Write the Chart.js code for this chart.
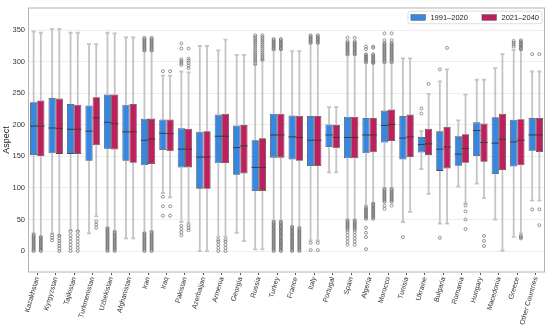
<!DOCTYPE html>
<html>
<head>
<meta charset="utf-8">
<script src="https://cdn.jsdelivr.net/npm/chart.js@4.4.1/dist/chart.umd.min.js"></script>
<style>
  html, body { margin: 0; padding: 0; background: #fff; }
  canvas { display: block; }
</style>
</head>
<body>
<canvas id="chart" width="550" height="327"></canvas>
<script>
// ------------------------------------------------------------
//  Data (box stats per country)
// ------------------------------------------------------------

const categories = [
    "Kazakhstan", "Kyrgyzstan", "Tajikistan", "Turkmenistan", "Uzbekistan",
    "Afghanistan", "Iran", "Iraq", "Pakistan", "Azerbaijan", "Armenia",
    "Georgia", "Russia", "Turkey", "France", "Italy", "Portugal", "Spain",
    "Algeria", "Morocco", "Tunisia", "Ukraine", "Bulgaria", "Romania",
    "Hungary", "Macedonia", "Greece", "Other Countries",
];
const seriesLabels = ["1991–2020", "2021–2040"];
const yTicks = [0, 50, 100, 150, 200, 250, 300, 350];

// 1991–2020
const q1A  = [152, 155, 154, 143, 162, 143, 136, 160, 132.5, 98.6, 139, 121, 95, 148, 145, 134.7, 165, 147, 155, 172, 145, 156, 127, 135, 150.5, 122, 134, 159];
const medA = [198, 195, 193, 190, 204, 189, 175.6, 186.6, 161.5, 149, 182, 164, 132.5, 184, 181, 175.6, 184, 180, 184, 199, 179, 169, 161.5, 153.6, 191, 171, 173, 184];
const q3A  = [236, 242.6, 233, 230.6, 248, 232, 209.6, 208.6, 194.5, 189, 216.5, 199, 175.6, 217.5, 215, 214, 200.7, 213, 211, 222.8, 214, 181, 190, 182, 204, 212, 208, 211];
const loA  = [28, 28, 33, 28, 37, 20, 29, 92, 46, 0, 22.5, 29, 2.6, 48, 39, 17, 124.7, 50, 72, 100, 46, 130, 43.5, 102, 107, 50, 22.5, 80];
const hiA  = [348, 352, 346, 328, 346, 338.5, 317, 278, 284.6, 325, 318, 311, 295, 318.7, 317, 329, 228, 311, 298, 298, 305.5, 190, 269, 207, 271.5, 290, 318.7, 284.6];
const outA = [
    [0, 2, 4, 6, 8, 10, 12, 14, 16, 18, 20, 22, 24, 26],
    [17, 21, 25],
    [0, 5, 10, 15, 20, 25, 31],
    [],
    [0, 2, 4, 6, 8, 10, 12, 14, 16, 18, 20, 22, 24, 26, 28, 30, 32, 34, 36],
    [],
    [0, 2, 4, 6, 8, 10, 12, 14, 16, 18, 20, 22, 24, 26, 28, 318, 320, 322, 324, 326, 328, 330, 332, 334, 336, 338],
    [56, 71, 86, 285],
    [25, 30, 35, 40, 295, 298, 301, 304, 321, 329],
    [],
    [0, 5, 10, 15, 18],
    [],
    [297, 300, 303, 306, 309, 312, 315, 318, 321, 324, 327, 330, 333, 336, 339, 342],
    [0, 2, 4, 6, 8, 10, 12, 14, 16, 18, 20, 22, 24, 26, 28, 30, 32, 34, 36, 38, 40, 42, 44, 46, 320, 322, 324, 326, 328, 330, 332, 334, 336],
    [0, 2, 4, 6, 8, 10, 12, 14, 16, 18, 20, 22, 24, 26, 28, 30, 32, 34, 36, 38],
    [1.5, 13, 330, 332, 334, 336, 338, 340, 342],
    [],
    [10, 15, 20, 25, 30, 34, 36, 38, 40, 42, 44, 46, 48, 312, 314, 316, 318, 320, 322, 324, 326, 328, 330, 332, 338],
    [3, 22, 29, 37, 51, 53, 55, 57, 59, 61, 63, 65, 67, 69, 300, 302, 304, 306, 308, 310, 312, 320, 324],
    [67, 72, 78, 80, 82, 84, 86, 88, 90, 92, 94, 96, 98, 300, 302, 304, 306, 308, 310, 312, 314, 316, 318, 320, 322, 324, 326, 328, 330, 334, 345],
    [22],
    [218, 226],
    [21, 288],
    [],
    [],
    [],
    [324, 327, 330, 333],
    [66, 312],
];

// 2021–2040
const q1B  = [150.5, 154, 153.6, 167.7, 161, 140, 138, 158, 132.6, 98.6, 139.5, 123, 95, 148, 143, 134.7, 163, 147, 156.7, 174.5, 149, 152, 131, 140, 141.5, 128.5, 136, 157];
const medB = [198, 194.5, 193, 211, 202, 189, 177.6, 186, 161.5, 149, 182, 166.7, 132.5, 184, 180, 175.6, 180, 180, 184, 200.7, 181, 170, 165, 162.5, 172, 177, 175.6, 184];
const q3B  = [238.5, 241.6, 232, 243.7, 248, 233, 210, 208.6, 194, 190, 217.5, 200, 178.7, 217.5, 214.5, 214, 200, 213, 211, 224.3, 216.5, 194, 197, 185, 202, 217.5, 209, 211];
const loB  = [23, 25, 32, 55, 32, 20, 32, 85, 45, 0, 22.5, 15.7, 2.6, 48, 38, 17, 124.7, 50, 76, 100, 62, 90.7, 43.5, 76, 84, 0.5, 28, 80];
const hiB  = [346, 352, 346, 328, 345, 338.5, 317, 278, 283, 325, 335, 311, 303, 318.7, 317, 329, 228, 311, 298, 298, 305.5, 249, 288, 248, 271.5, 312, 318.7, 284.6];
const outB = [
    [0, 2, 4, 6, 8, 10, 12, 14, 16, 18, 20, 22],
    [0, 4, 8, 12, 16, 20, 24],
    [0, 5, 10, 15, 20, 25, 31],
    [37, 42, 47],
    [0, 2, 4, 6, 8, 10, 12, 14, 16, 18, 20, 22, 24, 26, 28, 30],
    [],
    [0, 2, 4, 6, 8, 10, 12, 14, 16, 18, 20, 22, 24, 26, 28, 30, 318, 320, 322, 324, 326, 328, 330, 332, 334, 336, 338],
    [56, 71, 285],
    [33, 37, 41, 290, 294, 298, 302, 305, 321],
    [],
    [0, 5, 10, 15, 18],
    [],
    [303, 306, 309, 312, 315, 318, 321, 324, 327, 330, 333, 336, 339, 342],
    [0, 2, 4, 6, 8, 10, 12, 14, 16, 18, 20, 22, 24, 26, 28, 30, 32, 34, 36, 38, 40, 42, 44, 46, 320, 322, 324, 326, 328, 330, 332, 334, 336],
    [0, 2, 4, 6, 8, 10, 12, 14, 16, 18, 20, 22, 24, 26, 28, 30, 32, 34, 36],
    [1.5, 13, 330, 332, 334, 336, 338, 340, 342],
    [],
    [10, 15, 20, 25, 30, 34, 36, 38, 40, 42, 44, 46, 48, 312, 314, 316, 318, 320, 322, 324, 326, 328, 330, 332, 338],
    [51, 53, 55, 57, 59, 61, 63, 65, 67, 69, 71, 73, 75, 298, 300, 302, 304, 306, 308, 310, 312, 322, 324],
    [72, 78, 80, 82, 84, 86, 88, 90, 92, 94, 96, 98, 300, 302, 304, 306, 308, 310, 312, 314, 316, 318, 320, 322, 324, 326, 328, 330, 334, 345],
    [],
    [265],
    [322],
    [35, 50, 63, 72],
    [8, 16, 24],
    [],
    [20, 22, 24, 320, 322, 324, 326, 328, 330, 332, 334],
    [41, 66, 312],
];

const COLORS = {
    blue:    "#3787e2",
    red:     "#bf1f5c",
    edge:    "#4a4a4a",
    whisker: "#c4c4c4",
    median:  "#3c3c3c",
    flier:   "#6a6a6a",
    frame:   "#b4b4b4",
    grid:    "#eeeeee",
    text:    "#333333",
};
const FONT = "'Liberation Sans', Arial, sans-serif";

const boxStats = [
    { lo: loA, hi: hiA, med: medA, out: outA },
    { lo: loB, hi: hiB, med: medB, out: outB },
];

// ------------------------------------------------------------
//  Plugin: whiskers, medians, fliers, frame and inner legend
// ------------------------------------------------------------

const boxExtras = {
    id: "boxExtras",
    beforeDatasetsDraw(chart) {
        const { ctx } = chart;
        const y = chart.scales.y;
        ctx.save();
        ctx.strokeStyle = COLORS.whisker;
        ctx.lineWidth = 1.8;
        boxStats.forEach((s, di) => {
            const bars = chart.getDatasetMeta(di).data;
            const ds = chart.data.datasets[di].data;
            bars.forEach((bar, i) => {
                const x = bar.x;
                const cap = bar.width * 0.28;
                const pq1 = y.getPixelForValue(ds[i][0]);
                const pq3 = y.getPixelForValue(ds[i][1]);
                const plo = y.getPixelForValue(s.lo[i]);
                const phi = y.getPixelForValue(s.hi[i]);
                ctx.beginPath();
                ctx.moveTo(x, pq3); ctx.lineTo(x, phi);
                ctx.moveTo(x, pq1); ctx.lineTo(x, plo);
                ctx.moveTo(x - cap, phi); ctx.lineTo(x + cap, phi);
                ctx.moveTo(x - cap, plo); ctx.lineTo(x + cap, plo);
                ctx.stroke();
            });
        });
        ctx.restore();
    },
    afterDatasetsDraw(chart) {
        const { ctx, chartArea: ca } = chart;
        const y = chart.scales.y;
        ctx.save();
        boxStats.forEach((s, di) => {
            const bars = chart.getDatasetMeta(di).data;
            bars.forEach((bar, i) => {
                const x = bar.x, w = bar.width;
                // median
                const pm = y.getPixelForValue(s.med[i]);
                ctx.strokeStyle = COLORS.median;
                ctx.lineWidth = 1;
                ctx.beginPath();
                ctx.moveTo(x - w / 2, pm); ctx.lineTo(x + w / 2, pm);
                ctx.stroke();
                // fliers
                ctx.strokeStyle = COLORS.flier;
                ctx.lineWidth = 0.7;
                s.out[i].forEach(v => {
                    ctx.beginPath();
                    ctx.arc(x, y.getPixelForValue(v), 1.5, 0, Math.PI * 2);
                    ctx.stroke();
                });
            });
        });

        // frame
        ctx.strokeStyle = COLORS.frame;
        ctx.lineWidth = 1;
        ctx.strokeRect(ca.left + 0.5, ca.top + 0.5, ca.right - ca.left - 1, ca.bottom - ca.top - 1);

        // legend, upper right inside the axes
        ctx.font = `7.5px ${FONT}`;
        ctx.textBaseline = "middle";
        const sw = 14.5, sh = 5.6, gapT = 5, gapI = 14, pad = 3;
        const widths = seriesLabels.map(t => ctx.measureText(t).width);
        const inner = widths.reduce((a, w) => a + sw + gapT + w, 0) + gapI;
        const bw = inner + pad * 2, bh = 12.5;
        const bx = ca.right - 3 - bw, by = ca.top + 3.7;
        ctx.fillStyle = "rgba(255,255,255,0.85)";
        ctx.strokeStyle = "#d6d6d6";
        ctx.lineWidth = 0.8;
        ctx.beginPath();
        ctx.roundRect(bx, by, bw, bh, 2);
        ctx.fill();
        ctx.stroke();
        let cx = bx + pad;
        const cy = by + bh / 2;
        [COLORS.blue, COLORS.red].forEach((col, k) => {
            ctx.fillStyle = col;
            ctx.fillRect(cx, cy - sh / 2, sw, sh);
            ctx.strokeStyle = COLORS.edge;
            ctx.lineWidth = 0.5;
            ctx.strokeRect(cx, cy - sh / 2, sw, sh);
            cx += sw + gapT;
            ctx.fillStyle = "#222";
            ctx.fillText(seriesLabels[k], cx, cy + 0.5);
            cx += widths[k] + gapI;
        });
        ctx.restore();
    },
};

// ------------------------------------------------------------
//  Chart
// ------------------------------------------------------------

new Chart(document.getElementById("chart"), {
    type: "bar",
    data: {
        labels: categories,
        datasets: [
            {
                label: seriesLabels[0],
                data: q1A.map((v, i) => [v, q3A[i]]),
                backgroundColor: COLORS.blue,
                borderColor: COLORS.edge,
                borderWidth: 0.8,
                borderSkipped: false,
                categoryPercentage: 0.78,
                barPercentage: 1.0,
            },
            {
                label: seriesLabels[1],
                data: q1B.map((v, i) => [v, q3B[i]]),
                backgroundColor: COLORS.red,
                borderColor: COLORS.edge,
                borderWidth: 0.8,
                borderSkipped: false,
                categoryPercentage: 0.78,
                barPercentage: 1.0,
            },
        ],
    },
    options: {
        responsive: false,
        animation: false,
        layout: { padding: { top: 5, right: 5, left: 0, bottom: 0 } },
        plugins: {
            legend: { display: false },
            tooltip: { enabled: false },
        },
        scales: {
            x: {
                grid: {
                    offset: false,
                    drawOnChartArea: false,
                    drawTicks: true,
                    tickLength: 2.5,
                    color: "#555",
                },
                border: { display: false },
                ticks: {
                    color: COLORS.text,
                    font: { family: FONT, size: 7 },
                    autoSkip: false,
                    maxRotation: 74,
                    minRotation: 74,
                    padding: 1,
                },
                afterFit: s => { s.height = 54.5; },
            },
            y: {
                min: -34,
                max: 386,
                afterBuildTicks: s => { s.ticks = yTicks.map(v => ({ value: v })); },
                grid: { color: COLORS.grid, drawTicks: false },
                border: { display: false },
                ticks: {
                    color: COLORS.text,
                    font: { family: FONT, size: 7.5 },
                    padding: 3,
                },
                title: {
                    display: true,
                    text: "Aspect",
                    color: "#222",
                    font: { family: FONT, size: 9 },
                    padding: { top: 1, bottom: 0 },
                },
                afterFit: s => { s.width = 28; },
            },
        },
    },
    plugins: [boxExtras],
});
</script>
</body>
</html>
